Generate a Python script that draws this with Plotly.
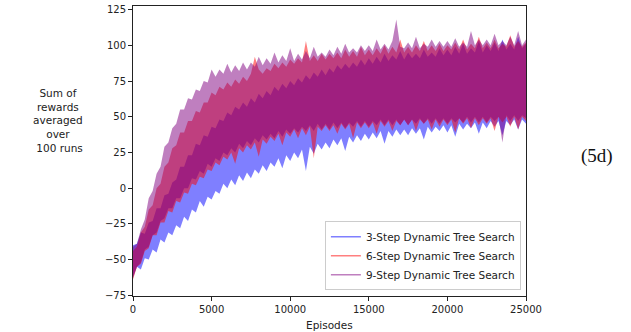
import plotly.graph_objects as go

# Episode sample positions (every 250 episodes, 0..25000)
EPISODES = list(range(0, 25001, 250))

SERIES_NAMES = ["3-Step Dynamic Tree Search", "6-Step Dynamic Tree Search", "9-Step Dynamic Tree Search"]

# Upper / lower envelopes of each noisy curve
BLUE_LOWER = [
    -62, -55, -57, -49, -50, -43, -45, -36, -38, -31,
    -33, -26, -28, -20, -23, -15, -17, -9, -13, -6,
    -8, -2, -4, 3, 0, 6, 2, 9, 5, 11,
    7, 13, 10, 16, 12, 18, 15, 21, 14, 23,
    19, 25, 21, 27, 12, 29, 24, 31, 27, 32,
    28, 34, 30, 35, 26, 36, 32, 37, 33, 38,
    34, 39, 35, 40, 31, 40, 36, 41, 37, 41,
    37, 42, 38, 42, 34, 43, 39, 43, 40, 44,
    39, 44, 36, 45, 41, 45, 42, 46, 38, 46,
    42, 47, 43, 47, 37, 47, 44, 48, 41, 48,
    45]
BLUE_UPPER = [
    -40, -39, -31, -32, -24, -23, -14, -14, -5, -4,
    4, 6, 15, 15, 23, 23, 31, 30, 37, 36,
    43, 42, 48, 47, 53, 51, 57, 55, 60, 57,
    63, 60, 66, 63, 68, 65, 71, 68, 73, 70,
    75, 72, 77, 74, 79, 76, 81, 78, 83, 79,
    84, 81, 86, 83, 87, 84, 88, 85, 90, 86,
    91, 87, 92, 88, 94, 89, 93, 90, 96, 90,
    95, 91, 94, 91, 97, 92, 95, 92, 98, 93,
    97, 93, 99, 94, 101, 94, 98, 95, 103, 95,
    100, 96, 102, 96, 104, 97, 101, 97, 106, 98,
    101]
RED_LOWER = [
    -64, -55, -53, -44, -42, -33, -33, -24, -24, -16,
    -17, -9, -10, -3, -4, 3, 2, 8, 7, 13,
    12, 18, 16, 22, 20, 25, 17, 28, 25, 30,
    27, 32, 22, 34, 31, 36, 33, 38, 30, 39,
    36, 41, 35, 42, 37, 43, 21, 43, 40, 44,
    40, 44, 38, 45, 41, 45, 35, 46, 42, 46,
    42, 46, 38, 47, 43, 47, 40, 47, 44, 48,
    44, 48, 40, 48, 45, 48, 41, 48, 43, 48,
    44, 48, 39, 49, 45, 49, 42, 49, 44, 49,
    45, 49, 40, 50, 46, 50, 43, 50, 41, 50,
    47]
RED_UPPER = [
    -44, -41, -31, -27, -15, -12, 0, 3, 15, 18,
    28, 30, 39, 39, 47, 47, 54, 53, 60, 60,
    67, 65, 71, 69, 74, 71, 76, 73, 78, 75,
    80, 92, 83, 80, 84, 82, 87, 84, 88, 85,
    90, 87, 91, 88, 103, 89, 93, 89, 94, 90,
    94, 91, 95, 91, 97, 92, 96, 92, 99, 93,
    97, 93, 98, 94, 100, 94, 99, 95, 104, 95,
    99, 95, 100, 96, 103, 96, 100, 96, 101, 96,
    100, 97, 102, 97, 104, 97, 101, 98, 106, 98,
    102, 98, 104, 98, 101, 99, 107, 99, 103, 99,
    102]
PURPLE_LOWER = [
    -63, -55, -52, -43, -41, -33, -31, -23, -21, -14,
    -14, -7, -7, 0, 0, 7, 6, 12, 10, 17,
    15, 21, 19, 25, 23, 28, 25, 31, 28, 33,
    30, 35, 32, 37, 34, 38, 35, 40, 36, 41,
    38, 42, 39, 43, 40, 44, 40, 45, 41, 45,
    41, 46, 42, 46, 42, 46, 43, 47, 43, 47,
    43, 47, 44, 48, 44, 48, 44, 48, 44, 48,
    44, 48, 45, 49, 45, 49, 45, 49, 45, 49,
    45, 49, 46, 49, 46, 50, 46, 50, 46, 50,
    46, 50, 47, 50, 32, 51, 47, 51, 47, 51,
    49]
PURPLE_UPPER = [
    -41, -39, -29, -22, -7, -2, 10, 15, 29, 32,
    42, 45, 55, 55, 63, 62, 69, 68, 75, 74,
    83, 78, 83, 80, 87, 81, 86, 82, 88, 83,
    88, 85, 92, 86, 91, 87, 95, 88, 93, 89,
    98, 89, 94, 90, 96, 91, 99, 92, 95, 92,
    97, 93, 99, 94, 101, 95, 98, 95, 100, 96,
    100, 96, 104, 97, 101, 97, 103, 118, 99, 98,
    102, 98, 106, 98, 101, 99, 104, 99, 103, 99,
    103, 99, 105, 99, 102, 99, 110, 100, 104, 100,
    104, 100, 108, 100, 103, 100, 106, 100, 110, 100,
    104]

X_TICKS = [0, 5000, 10000, 15000, 20000, 25000]
Y_TICKS = [-75, -50, -25, 0, 25, 50, 75, 100, 125]

COLORS = ["rgba(0,0,255,0.5)", "rgba(255,0,0,0.5)", "rgba(128,0,128,0.5)"]
LOWERS = [BLUE_LOWER, RED_LOWER, PURPLE_LOWER]
UPPERS = [BLUE_UPPER, RED_UPPER, PURPLE_UPPER]

FONT = "DejaVu Sans, sans-serif"

fig = go.Figure()
for name, col, lo, up in zip(SERIES_NAMES, COLORS, LOWERS, UPPERS):
    fig.add_trace(go.Scatter(
        x=EPISODES + EPISODES[::-1],
        y=up + lo[::-1],
        fill="toself", fillcolor=col, mode="lines",
        line=dict(width=0, color=col),
        showlegend=False, hoverinfo="skip",
    ))
for name, col in zip(SERIES_NAMES, COLORS):
    fig.add_trace(go.Scatter(
        x=[None], y=[None], mode="lines", name=name,
        line=dict(color=col, width=1.5),
    ))

axis_common = dict(
    showgrid=False, zeroline=False, showline=True, linecolor="#222",
    linewidth=1, mirror=True, ticks="outside", ticklen=4, tickwidth=0.8,
    tickcolor="#222", tickfont=dict(family=FONT, size=10, color="#222"),
)
fig.update_xaxes(range=[0, 25000], tickvals=X_TICKS,
                 ticktext=[str(v) for v in X_TICKS], **axis_common)
fig.update_yaxes(range=[-75.5, 127.5], tickvals=Y_TICKS,
                 ticktext=[str(v).replace("-", "\u2212") for v in Y_TICKS], **axis_common)

fig.add_annotation(text="Episodes", xref="paper", yref="paper", x=0.5, y=-0.099,
                   showarrow=False, xanchor="center", yanchor="middle",
                   font=dict(family=FONT, size=10.5, color="#222"))
fig.add_annotation(text="Sum of<br>rewards<br>averaged<br>over<br> 100 runs",
                   xref="paper", yref="paper", x=-0.192, y=0.606,
                   showarrow=False, xanchor="center", yanchor="middle", align="center",
                   font=dict(family=FONT, size=10.5, color="#222"))
fig.add_annotation(text="(5d)", xref="paper", yref="paper", x=1.181, y=0.483,
                   showarrow=False, xanchor="center", yanchor="middle",
                   font=dict(family="Liberation Serif, Times New Roman, serif", size=19, color="#111"))

fig.update_layout(
    width=631, height=332,
    margin=dict(l=133, r=105, t=4, b=36),
    paper_bgcolor="white", plot_bgcolor="white",
    font=dict(family=FONT, size=10.5, color="#222"),
    legend=dict(x=0.987, y=0.02, xanchor="right", yanchor="bottom",
                bgcolor="rgba(255,255,255,0.85)", bordercolor="#cccccc", borderwidth=1,
                font=dict(family=FONT, size=10.5, color="#222"),
                itemwidth=30, tracegroupgap=0),
)

fig.write_html("out.html", config={"displayModeBar": False},
               post_script="document.body.style.margin='0';document.body.style.overflow='hidden';")
